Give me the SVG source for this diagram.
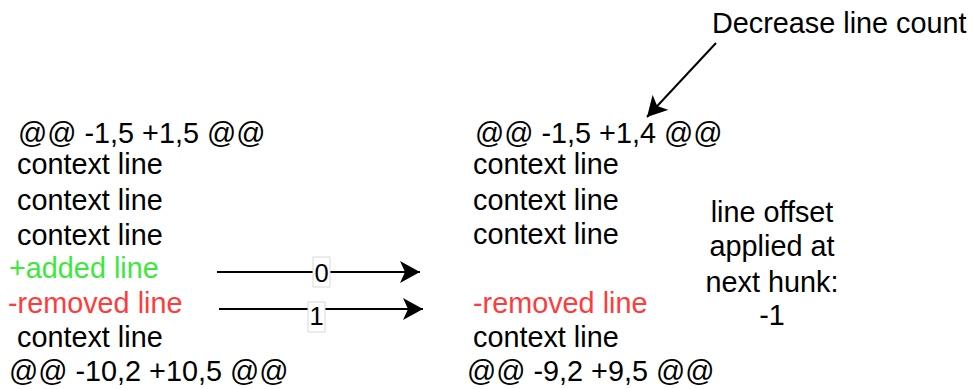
<svg xmlns="http://www.w3.org/2000/svg" width="973" height="389" viewBox="0 0 973 389">
  <style>
    text { font-family: "Liberation Sans", Arial, sans-serif; font-size: 28.8px; fill: #000; }
    .added { fill: #3DE83D; }
    .removed { fill: #FF3B3B; }
    .label { font-size: 25.5px; text-anchor: middle; }
    .mid { text-anchor: middle; }
    .edge { stroke: #000; stroke-width: 2; fill: none; }
    .lblbox { fill: #fff; stroke: #d8d8d8; stroke-width: 1; }
  </style>
  <defs>
    <marker id="arrowBig" viewBox="0 0 20 22" refX="20" refY="11" markerWidth="20" markerHeight="22" orient="auto" markerUnits="userSpaceOnUse">
      <path d="M0,0 L20,11 L0,22 L5,11 Z" fill="#000"/>
    </marker>
  </defs>

  <rect width="973" height="389" fill="#fff"/>

  <!-- original hunk -->
  <g id="hunk-before">
    <text x="18" y="143">@@ -1,5 +1,5 @@</text>
    <text x="17" y="174">context line</text>
    <text x="17" y="210">context line</text>
    <text x="17" y="245">context line</text>
    <text x="9" y="278" class="added">+added line</text>
    <text x="8" y="313" class="removed">-removed line</text>
    <text x="17" y="347">context line</text>
    <text x="9" y="381">@@ -10,2 +10,5 @@</text>
  </g>

  <!-- hunk after the added line is dropped -->
  <g id="hunk-after">
    <text x="475" y="143">@@ -1,5 +1,4 @@</text>
    <text x="473" y="174">context line</text>
    <text x="473" y="210">context line</text>
    <text x="473" y="244">context line</text>
    <text x="473" y="313" class="removed">-removed line</text>
    <text x="473" y="347">context line</text>
    <text x="467" y="381">@@ -9,2 +9,5 @@</text>
  </g>

  <g id="note-count">
    <text x="712" y="33">Decrease line count</text>
  </g>

  <g id="note-offset">
    <text x="772" y="222" class="mid">line offset</text>
    <text x="772" y="256" class="mid">applied at</text>
    <text x="772" y="292" class="mid">next hunk:</text>
    <text x="772" y="325" class="mid">-1</text>
  </g>

  <!-- connectors -->
  <g id="connectors">
    <line class="edge" x1="217" y1="272" x2="420" y2="272" marker-end="url(#arrowBig)"/>
    <line class="edge" x1="219" y1="309" x2="423" y2="309" marker-end="url(#arrowBig)"/>
    <line class="edge" x1="716" y1="43" x2="647" y2="117" marker-end="url(#arrowBig)"/>

    <g id="edge-label-0">
      <rect class="lblbox" x="313" y="257" width="17" height="30"/>
      <text x="321.5" y="282" class="label">0</text>
    </g>
    <g id="edge-label-1">
      <rect class="lblbox" x="308" y="302" width="17" height="30"/>
      <text x="316.5" y="325" class="label">1</text>
    </g>
  </g>
</svg>
